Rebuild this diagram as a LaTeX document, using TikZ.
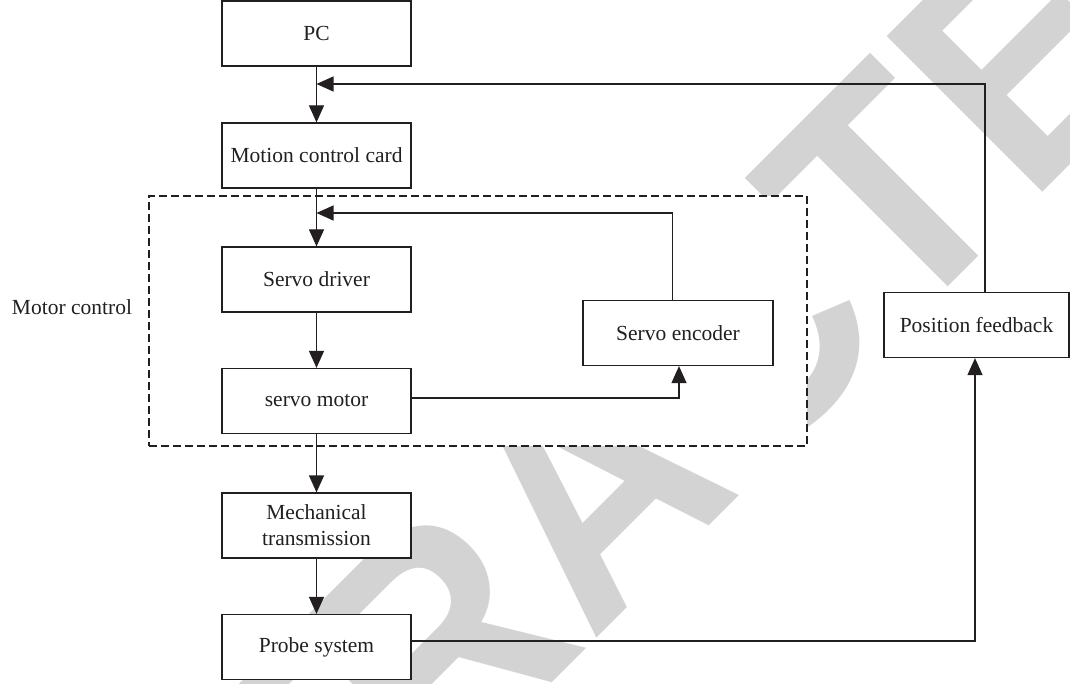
\documentclass[tikz,border=0pt]{standalone}
\usepackage{fontspec}
\setmainfont{Liberation Serif}
\newfontfamily\wmfont{Liberation Sans}
\usetikzlibrary{arrows.meta,calc}
\definecolor{wmgray}{RGB}{211,211,211}
\definecolor{ink}{RGB}{35,31,32}
\begin{document}
\begin{tikzpicture}[x=1pt,y=-1pt,
  blk/.style={draw=ink, line width=1.2pt, fill=white, minimum width=189pt, minimum height=65pt,
    inner sep=0pt, text=ink, font=\fontsize{21.5}{26}\selectfont, align=center},
  arr/.style={draw=ink, line width=1.2pt, -{Triangle[length=17pt,width=15pt]}},
  lbl/.style={text=ink, font=\fontsize{21.5}{26}\selectfont, inner sep=0pt}]
\useasboundingbox (0,0) rectangle (1070,684);
% watermark
\node[text=wmgray, font=\wmfont\bfseries\fontsize{320}{320}\selectfont, rotate=45, anchor=base, inner sep=0pt] (wmk) at (668,567) {\scalebox{0.94}[1]{RETRACTED}};
% motor control group
\node[draw=ink, line width=1.1pt, dash pattern=on 8pt off 4pt, fill=white,
  minimum width=658pt, minimum height=250pt, inner sep=0pt] (mc) at (478,321) {};
\node[lbl] (mclabel) at (72,307) {Motor control};
% blocks
\node[blk] (pc) at (316.5,33.5) {PC};
\node[blk] (mcc) at (316.5,155.5) {Motion control card};
\node[blk] (sd) at (316.5,279.5) {Servo driver};
\node[blk] (sm) at (316.5,401) {servo motor};
\node[blk] (mt) at (316.5,525.5) {Mechanical\\transmission};
\node[blk] (ps) at (316.5,647) {Probe system};
\node[blk, minimum width=190pt] (se) at (678,333) {Servo encoder};
\node[blk, minimum width=185pt] (pf) at (976.5,325) {Position feedback};
% junctions
\coordinate (j1) at (316.5,84);
\coordinate (j2) at (316.5,213);
% connectors
\draw[arr] (pc) -- (mcc);
\draw[arr] (mcc) -- (sd);
\draw[arr] (sd) -- (sm);
\draw[arr] (sm) -- (mt);
\draw[arr] (mt) -- (ps);
\draw[arr] ([xshift=8.5pt]pf.north) |- (j1);
\draw[arr] ([xshift=-5.4pt]se.north) |- (j2);
\draw[arr] ([yshift=3pt]sm.east) -| ([xshift=1pt]se.south);
\draw[arr] ([yshift=6pt]ps.east) -| ([xshift=-1.5pt]pf.south);
\end{tikzpicture}
\end{document}
